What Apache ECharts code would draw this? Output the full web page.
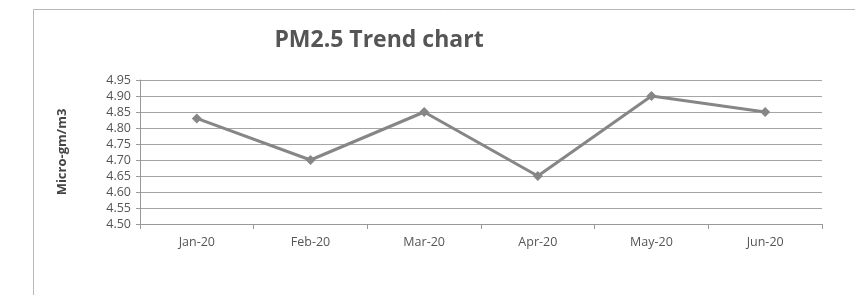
<!DOCTYPE html>
<html><head><meta charset="utf-8">
<script src="https://cdn.jsdelivr.net/npm/echarts@6/dist/echarts.min.js"></script>
<style>html,body{margin:0;padding:0;background:#fff}#c{width:855px;height:295px}</style>
</head><body><div id="c"></div>
<script>
const titleText = 'PM2.5 Trend chart';
const yAxisName = 'Micro-gm/m3';
const categories = ['Jan-20','Feb-20','Mar-20','Apr-20','May-20','Jun-20'];
const pm25 = [4.83, 4.70, 4.85, 4.65, 4.90, 4.85];
const yMin = 4.50, yMax = 4.95, yStep = 0.05;

const chart = echarts.init(document.getElementById('c'));
chart.setOption({
  backgroundColor: '#fff',
  animation: false,
  graphic: [{
    type: 'rect', shape: {x: 33.5, y: 9.5, width: 900, height: 400},
    style: {fill: 'none', stroke: '#b8b8b8', lineWidth: 1}, silent: true
  }],
  title: {
    text: titleText, left: 374, top: 24, textAlign: 'center',
    textStyle: {fontFamily: 'Open Sans', fontWeight: 'bold', fontSize: 23, color: '#555'}
  },
  grid: {left: 140, right: 33, top: 80, bottom: 71},
  xAxis: {
    type: 'category', data: categories, boundaryGap: true,
    axisLine: {lineStyle: {color: '#999'}},
    axisTick: {show: true, length: 5, lineStyle: {color: '#999'}},
    axisLabel: {fontFamily: 'Open Sans', fontSize: 12.5, color: '#555', margin: 12}
  },
  yAxis: {
    type: 'value', min: yMin, max: yMax, interval: yStep,
    name: yAxisName, nameLocation: 'middle', nameGap: 71, nameRotate: 90,
    nameTextStyle: {fontFamily: 'Open Sans', fontWeight: 'bold', fontSize: 13, color: '#444'},
    axisLine: {show: true, lineStyle: {color: '#999'}},
    axisTick: {show: true, length: 4, lineStyle: {color: '#999'}},
    axisLabel: {fontFamily: 'Open Sans', fontSize: 12.5, color: '#555', margin: 9,
      formatter: v => v.toFixed(2)},
    splitLine: {lineStyle: {color: '#a5a5a5', width: 1}}
  },
  series: [{
    type: 'line', data: pm25,
    symbol: 'diamond', symbolSize: 10,
    lineStyle: {color: '#868686', width: 3},
    itemStyle: {color: '#868686'}
  }]
});
</script></body></html>
